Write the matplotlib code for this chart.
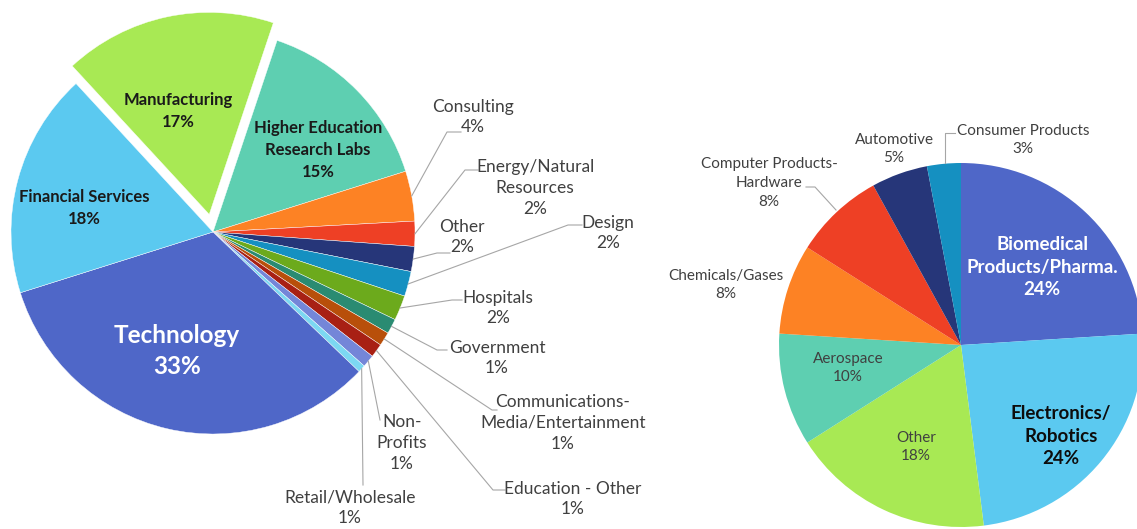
import numpy as np
import matplotlib
matplotlib.use("Agg")
import matplotlib.pyplot as plt

# ---------------- data ----------------
left_names = ["Higher Education\nResearch Labs", "Consulting", "Energy/Natural\nResources", "Other",
              "Design", "Hospitals", "Government", "Communications-\nMedia/Entertainment",
              "Education - Other", "Non-\nProfits", "Retail/Wholesale", "Technology",
              "Financial Services", "Manufacturing"]
left_values = [15, 4, 2, 2, 2, 2, 1.2, 1.1, 1.1, 1.0, 0.6, 33, 18, 17]
left_colors = ["#5ECFB1", "#FD8224", "#EE4025", "#263679", "#1590C1", "#6CAA1C", "#2A8B72",
               "#B84F0A", "#A82014", "#7486D8", "#7CD8F2", "#4F67C8", "#5BC9F0", "#A8E954"]

right_names = ["Biomedical\nProducts/Pharma.", "Electronics/\nRobotics", "Other", "Aerospace",
               "Chemicals/Gases", "Computer Products-\nHardware", "Automotive", "Consumer Products"]
right_values = [24, 24, 18, 10, 8, 8, 5, 3]
right_colors = ["#4F67C8", "#5BC9F0", "#A8E954", "#5ECFB1", "#FD8224", "#EE4025", "#263679", "#1590C1"]

W, H = 1137, 529
FONT = "Lato"
GREY = "#404040"
LINE = "#A6A6A6"


def px(x, y):
    # pixel coords (y down) -> axes data coords (y up)
    return x, H - y


def pct(v, vals):
    return "{:d}%".format(int(round(100.0 * v / sum(vals))))


fig = plt.figure(figsize=(W / 100, H / 100), dpi=100)
ax = fig.add_axes([0, 0, 1, 1])

# ---------------- left pie ----------------
lc = px(213, 232)
lr = 202
# explode is in data units here (not scaled by radius)
explode = [18 if n == "Manufacturing" else 0 for n in left_names]
wl, _ = ax.pie(left_values, colors=left_colors, startangle=90 - 18.5, counterclock=False,
               center=lc, radius=lr, explode=explode,
               wedgeprops=dict(edgecolor="white", linewidth=0.3))

# inside labels: name -> (x, y, color, size, linespacing)
left_inside = {
    "Manufacturing": (178, 111, "#1A1A1A", 12, 1.45),
    "Higher Education\nResearch Labs": (318, 150, "#1A1A1A", 12, 1.45),
    "Financial Services": (84, 208, "#1A1A1A", 12, 1.45),
    "Technology": (177, 351, "white", 17.5, 1.4),
}
# outside labels: name -> (text x, text y, elbow, line end)
left_outside = {
    "Consulting": (473, 117, (447, 132), (461, 132)),
    "Energy/Natural\nResources": (535, 188, (465, 170), (478, 170)),
    "Other": (462, 237, (437, 253), (450, 253)),
    "Design": (608, 233, (568, 225), (582, 225)),
    "Hospitals": (498, 308, (452, 300), (462, 300)),
    "Government": (497, 358, (437, 350), (447, 350)),
    "Communications-\nMedia/Entertainment": (563, 423, (492, 410), (497, 410)),
    "Education - Other": (573, 499, (493, 490), (505, 490)),
    "Non-\nProfits": (402, 443, (380, 420), (380, 420)),
    "Retail/Wholesale": (350, 508, (363, 485), (363, 485)),
}

for w, name, v in zip(wl, left_names, left_values):
    label = name + "\n" + pct(v, left_values)
    if name in left_inside:
        x, y, c, s, ls = left_inside[name]
        ax.text(*px(x, y), label, ha="center", va="center", color=c, fontsize=s,
                fontweight="bold", family=FONT, linespacing=ls)
    else:
        x, y, elbow, end = left_outside[name]
        mid = np.deg2rad((w.theta1 + w.theta2) / 2)
        sx = lc[0] + lr * np.cos(mid)
        sy = lc[1] + lr * np.sin(mid)
        ex, ey = px(*elbow)
        fx, fy = px(*end)
        ax.plot([sx, ex, fx], [sy, ey, fy], color=LINE, lw=0.8, zorder=1)
        ax.text(*px(x, y), label, ha="center", va="center", color=GREY, fontsize=12.5,
                family=FONT, linespacing=1.38)

# ---------------- right pie ----------------
rc = px(961, 345)
rr = 182
wr, _ = ax.pie(right_values, colors=right_colors, startangle=90, counterclock=False,
               center=rc, radius=rr)

right_text = {
    "Biomedical\nProducts/Pharma.": (1042, 267, "white", 13.5, "bold"),
    "Electronics/\nRobotics": (1061, 436, "#0D0D0D", 13.5, "bold"),
    "Other": (916, 447, GREY, 11, "normal"),
    "Aerospace": (848, 368, GREY, 11, "normal"),
    "Chemicals/Gases": (726, 285, GREY, 11, "normal"),
    "Computer Products-\nHardware": (769, 183, GREY, 11, "normal"),
    "Automotive": (894, 149, GREY, 11, "normal"),
    "Consumer Products": (1023, 140, GREY, 11, "normal"),
}
for name, v in zip(right_names, right_values):
    x, y, c, s, fw = right_text[name]
    ax.text(*px(x, y), name + "\n" + pct(v, right_values), ha="center", va="center",
            color=c, fontsize=s, fontweight=fw, family=FONT,
            linespacing=1.42)

# leader lines on the right pie
ax.plot(*zip(px(945, 163), px(945, 133), px(955, 133)), color=LINE, lw=0.8)
ax.plot(*zip(px(836, 210), px(815, 187), px(806, 187)), color=LINE, lw=0.8)

ax.set_xlim(0, W)
ax.set_ylim(0, H)
ax.set_aspect("auto")
ax.axis("off")

fig.savefig("out.png", dpi=100, facecolor="white")
